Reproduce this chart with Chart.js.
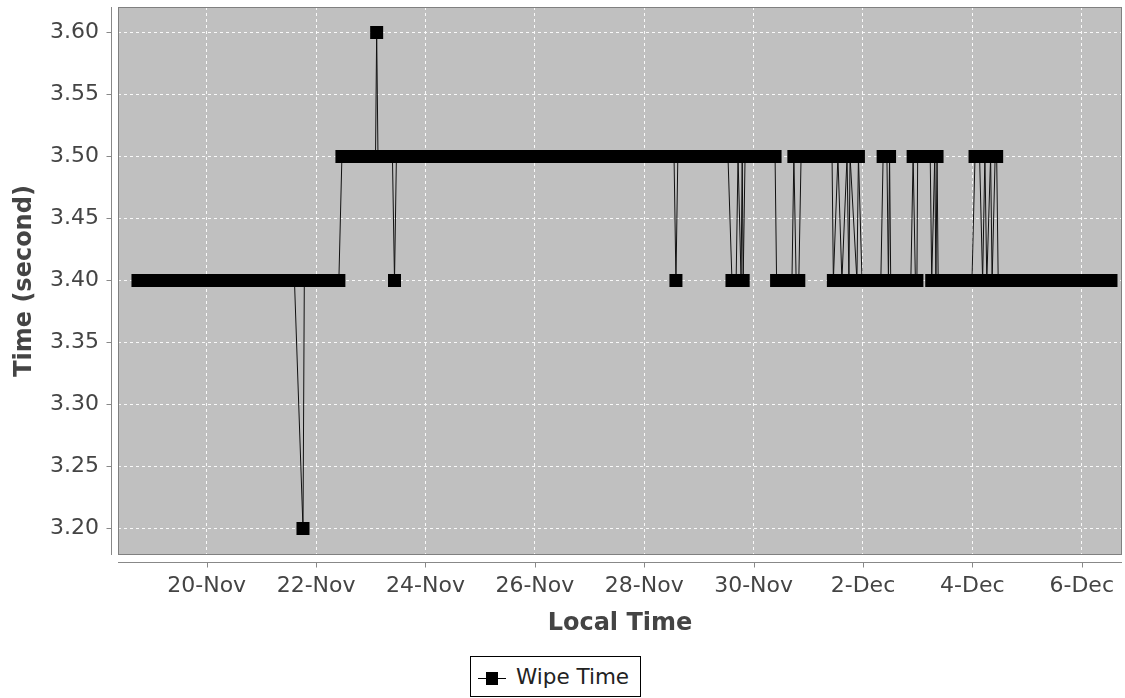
<!DOCTYPE html>
<html>
<head>
<meta charset="utf-8">
<script src="https://cdn.jsdelivr.net/npm/chart.js@4.4.1/dist/chart.umd.min.js"></script>
<style>
html,body{margin:0;padding:0;background:#fff;overflow:hidden;}
#wrap{position:relative;width:1125px;height:698px;overflow:hidden;background:#fff;}
#c{position:absolute;left:0;top:0;}
#legend{position:absolute;left:470px;top:656px;width:171px;height:41px;box-sizing:border-box;border:1px solid #000;background:#fff;font-family:"DejaVu Sans",sans-serif;font-size:21.5px;color:#222;}
#legend svg{position:absolute;left:7px;top:9px;}
#legend span{position:absolute;left:45px;top:8px;line-height:24px;white-space:nowrap;}
</style>
</head>
<body>
<div id="wrap">
<canvas id="c" width="1125" height="698"></canvas>
<div id="legend"><svg width="30" height="24" viewBox="0 0 30 24"><line x1="0" y1="12.5" x2="28" y2="12.5" stroke="#000" stroke-width="1"/><rect x="8" y="6" width="12" height="13" fill="#000"/></svg><span>Wipe Time</span></div>
</div>
<script>
// ---- data ----
const seriesName = "Wipe Time";
const times = [
 "11-18 17:50","11-18 21:40","11-19 01:30","11-19 05:20","11-19 09:10","11-19 13:00","11-19 16:50","11-19 20:40",
 "11-20 00:30","11-20 04:20","11-20 08:10","11-20 12:00","11-20 15:50","11-20 19:40","11-20 23:30","11-21 03:20",
 "11-21 07:10","11-21 11:00","11-21 14:30","11-21 18:15","11-21 18:50","11-21 22:40","11-22 02:30","11-22 06:20",
 "11-22 10:00","11-22 11:20","11-22 15:10","11-22 19:00","11-22 22:30","11-23 02:05","11-23 02:35","11-23 03:10",
 "11-23 06:20","11-23 09:30","11-23 10:25","11-23 11:15","11-23 15:00","11-23 19:00","11-23 23:00","11-24 03:00",
 "11-24 07:00","11-24 11:00","11-24 15:00","11-24 19:00","11-24 23:00","11-25 03:00","11-25 07:00","11-25 11:00",
 "11-25 15:00","11-25 19:00","11-25 23:00","11-26 03:00","11-26 07:00","11-26 11:00","11-26 15:00","11-26 19:00",
 "11-26 23:00","11-27 03:00","11-27 07:00","11-27 11:00","11-27 15:00","11-27 19:00","11-27 23:00","11-28 03:00",
 "11-28 07:00","11-28 11:00","11-28 13:05","11-28 13:55","11-28 14:45","11-28 18:30","11-28 22:30","11-29 02:30",
 "11-29 06:30","11-29 10:00","11-29 12:45","11-29 14:30","11-29 16:20","11-29 17:10","11-29 18:30","11-29 19:00",
 "11-29 19:25","11-29 20:15","11-30 00:00","11-30 04:00","11-30 07:00","11-30 09:25","11-30 10:05","11-30 12:30",
 "11-30 14:50","11-30 16:50","11-30 17:40","11-30 18:40","11-30 19:50","11-30 20:50","12-01 00:30","12-01 04:00",
 "12-01 07:30","12-01 10:25","12-01 11:00","12-01 13:00","12-01 14:45","12-01 17:00","12-01 17:50","12-01 18:20",
 "12-01 21:20","12-01 22:00","12-01 23:35","12-02 02:30","12-02 05:30","12-02 07:50","12-02 08:50","12-02 10:30",
 "12-02 11:10","12-02 11:40","12-02 12:10","12-02 15:00","12-02 18:00","12-02 21:00","12-02 22:00","12-02 23:00",
 "12-02 23:40","12-03 00:00","12-03 03:00","12-03 05:30","12-03 06:10","12-03 07:30","12-03 08:00","12-03 08:30",
 "12-03 09:00","12-03 11:30","12-03 15:00","12-03 18:30","12-03 22:00","12-03 23:50","12-04 01:10","12-04 03:10",
 "12-04 04:30","12-04 05:30","12-04 06:20","12-04 08:00","12-04 08:40","12-04 10:00","12-04 10:40","12-04 11:20",
 "12-04 15:00","12-04 18:30","12-04 22:00","12-05 01:30","12-05 05:00","12-05 08:30","12-05 12:00","12-05 15:30",
 "12-05 19:00","12-05 22:30","12-06 02:00","12-06 05:30","12-06 09:00","12-06 12:50"
];
const values = [
 3.4,3.4,3.4,3.4,3.4,3.4,3.4,3.4,
 3.4,3.4,3.4,3.4,3.4,3.4,3.4,3.4,
 3.4,3.4,3.4,3.2,3.4,3.4,3.4,3.4,
 3.4,3.5,3.5,3.5,3.5,3.5,3.6,3.5,
 3.5,3.5,3.4,3.5,3.5,3.5,3.5,3.5,
 3.5,3.5,3.5,3.5,3.5,3.5,3.5,3.5,
 3.5,3.5,3.5,3.5,3.5,3.5,3.5,3.5,
 3.5,3.5,3.5,3.5,3.5,3.5,3.5,3.5,
 3.5,3.5,3.5,3.4,3.5,3.5,3.5,3.5,
 3.5,3.5,3.5,3.4,3.4,3.5,3.4,3.5,
 3.4,3.5,3.5,3.5,3.5,3.5,3.4,3.4,
 3.4,3.4,3.5,3.4,3.4,3.5,3.5,3.5,
 3.5,3.5,3.4,3.5,3.4,3.5,3.4,3.5,
 3.4,3.5,3.4,3.4,3.4,3.4,3.5,3.5,
 3.4,3.5,3.4,3.4,3.4,3.4,3.5,3.4,
 3.4,3.5,3.5,3.5,3.4,3.5,3.4,3.5,
 3.4,3.4,3.4,3.4,3.4,3.4,3.5,3.5,
 3.4,3.5,3.4,3.5,3.4,3.5,3.5,3.4,
 3.4,3.4,3.4,3.4,3.4,3.4,3.4,3.4,
 3.4,3.4,3.4,3.4,3.4,3.4
];
const xTicks = [20,22,24,26,28,30,32,34,36];
const xTickLabels = ["20-Nov","22-Nov","24-Nov","26-Nov","28-Nov","30-Nov","2-Dec","4-Dec","6-Dec"];
const yTicks = [3.20,3.25,3.30,3.35,3.40,3.45,3.50,3.55,3.60];
const xTitle = "Local Time";
const yTitle = "Time (second)";

// day number counted from 0-Nov (Dec 2 -> 32)
function toDay(s){
  const [md, hm] = s.split(' ');
  const [m, d] = md.split('-').map(Number);
  const [h, mi] = hm.split(':').map(Number);
  return (m === 12 ? 30 : 0) + d + (h + mi/60)/24;
}

const FONT = '"DejaVu Sans", sans-serif';
const AXIS_GRAY = '#888888';
// axis range: 1240 px per unit over a 548 px high plot
const Y_MAX = 3.60 + 25.5/1240;
const Y_MIN = Y_MAX - 548/1240;

function noPad(s){ s.paddingTop = 0; s.paddingBottom = 0; s.paddingLeft = 0; s.paddingRight = 0; }

const decor = {
  id: 'decor',
  beforeDraw(chart){
    const {ctx, chartArea:a} = chart;
    ctx.save();
    ctx.fillStyle = '#ffffff';
    ctx.fillRect(0,0,chart.width,chart.height);
    ctx.fillStyle = '#c0c0c0';
    ctx.fillRect(a.left, a.top, a.right-a.left, a.bottom-a.top);
    ctx.restore();
  },
  afterDraw(chart){
    const {ctx, chartArea:a, scales} = chart;
    ctx.save();
    ctx.lineWidth = 1;
    ctx.strokeStyle = '#808080';
    ctx.strokeRect(a.left+0.5, a.top+0.5, a.right-a.left-1, a.bottom-a.top-1);
    ctx.strokeStyle = AXIS_GRAY;
    // y axis line and ticks
    const yx = a.left - 6.5;
    ctx.beginPath();
    ctx.moveTo(yx, a.top); ctx.lineTo(yx, a.bottom);
    scales.y.ticks.forEach(t=>{
      const py = Math.floor(scales.y.getPixelForValue(t.value)) + 0.5;
      ctx.moveTo(yx-5, py); ctx.lineTo(yx, py);
    });
    // x axis line and ticks
    const xy = a.bottom + 7.5;
    ctx.moveTo(a.left, xy); ctx.lineTo(a.right, xy);
    scales.x.ticks.forEach(t=>{
      const px = Math.round(scales.x.getPixelForValue(t.value)) + 0.5;
      ctx.moveTo(px, xy); ctx.lineTo(px, xy+5);
    });
    ctx.stroke();
    ctx.restore();
  }
};

new Chart(document.getElementById('c'), {
  type: 'line',
  data: {
    datasets: [{
      label: seriesName,
      data: times.map((t,i)=>({x: toDay(t), y: values[i]})),
      borderColor: '#111',
      borderWidth: 1,
      pointStyle: 'rect',
      pointRadius: 6.5 / Math.SQRT1_2,
      pointHoverRadius: 6.5 / Math.SQRT1_2,
      pointBackgroundColor: '#000',
      pointBorderWidth: 0,
      tension: 0,
      fill: false
    }]
  },
  options: {
    responsive: false,
    animation: false,
    devicePixelRatio: 1,
    layout: {autoPadding: false, padding: {top: 7, right: 3, left: 0, bottom: 0}},
    plugins: {legend: {display: false}, tooltip: {enabled: false}},
    scales: {
      x: {
        type: 'linear',
        min: 18.378,
        max: 36.736,
        afterFit(s){ s.height = 143; noPad(s); },
        afterBuildTicks(s){ s.ticks = xTicks.map(v=>({value:v})); },
        ticks: {
          autoSkip: false, maxRotation: 0,
          padding: 18,
          color: '#444',
          font: {family: FONT, size: 22},
          callback: (v) => xTickLabels[xTicks.indexOf(v)]
        },
        grid: {color: 'rgba(255,255,255,0.9)', lineWidth: 1, drawTicks: false},
        border: {display: false, dash: [3,3]},
        title: {display: true, text: xTitle, color: '#444',
          font: {family: FONT, size: 24, weight: 'bold'},
          padding: {top: 0, bottom: 59.6}}
      },
      y: {
        min: Y_MIN,
        max: Y_MAX,
        afterFit(s){ s.width = 118; noPad(s); },
        afterBuildTicks(s){ s.ticks = yTicks.map(v=>({value:v})); },
        ticks: {
          padding: 19,
          color: '#444',
          font: {family: FONT, size: 22},
          callback: (v) => Number(v).toFixed(2)
        },
        grid: {color: 'rgba(255,255,255,0.9)', lineWidth: 1, drawTicks: false},
        border: {display: false, dash: [3,3]},
        title: {display: true, text: yTitle, color: '#444',
          font: {family: FONT, size: 24, weight: 'bold'},
          padding: {top: 10.6, bottom: 0}}
      }
    }
  },
  plugins: [decor]
});
</script>
</body>
</html>
